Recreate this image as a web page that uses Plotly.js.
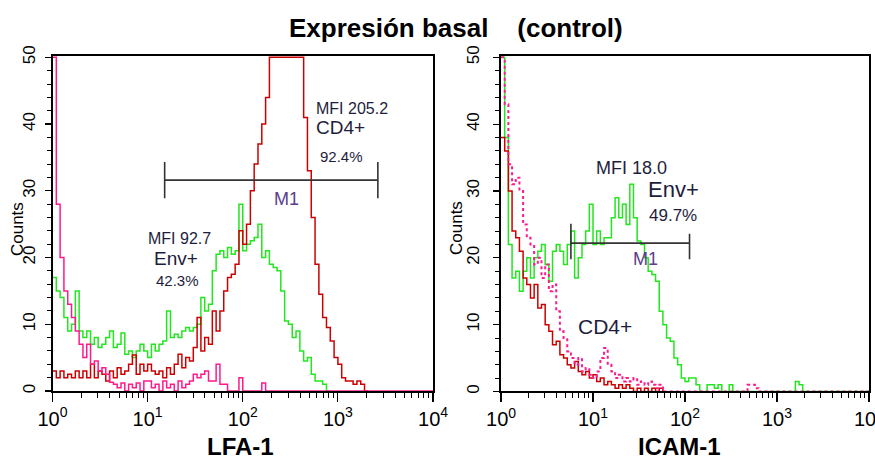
<!DOCTYPE html>
<html>
<head>
<meta charset="utf-8">
<script src="https://cdn.plot.ly/plotly-3.0.1.min.js"></script>
<style>
html, body { margin: 0; padding: 0; background: #ffffff; }
#chart { width: 875px; height: 459px; }
</style>
</head>
<body>
<div id="chart"></div>
<script>
// ---- data: histogram counts per channel (channel width = 0.04 decade, first channel at 10^0) ----
const channelStep = 0.04;

// LFA-1 panel
const lfaEnv = [17, 15, 14, 11, 9, 10, 15, 9, 8, 9,
  7, 8, 6.5, 7, 8, 9, 6.5, 7, 8.7, 5.5,
  6, 5, 6, 7, 6, 5, 7, 6, 7, 7.5,
  12, 8, 8.5, 8, 9, 9.5, 9, 9.5, 10, 14,
  12, 13, 18, 20.5, 21, 20, 21.5, 20.5, 21, 28,
  21, 22, 22.5, 23, 25, 20, 21, 19, 18.5, 18,
  15, 10.5, 10, 8, 9, 6, 4.5, 5, 2.5, 1.5,
  1.5, 1, 0, 0];
const lfaCd4 = [3, 2, 3, 2, 2.5, 2, 3, 2, 3, 2,
  4, 2, 3, 2.5, 1.5, 3, 2, 3.5, 2.5, 3,
  4, 5.4, 2.5, 4, 3, 4, 3, 2.5, 3, 2,
  3.5, 2.5, 4, 5.5, 3.5, 5, 4.5, 6.5, 11, 6,
  8, 7, 12, 9, 12, 15, 17, 17.5, 19, 24,
  22, 25, 30, 34, 37, 40, 44, 50, 50, 50,
  50, 50, 50, 50, 50, 50, 41, 33, 26, 19,
  14.5, 11, 9.5, 7.5, 5, 4, 2, 1.5, 1.5, 1,
  1.5, 1, 0, 0];
const lfaCtrl = [50, 28, 20, 15, 13, 11, 9, 7, 5, 7,
  4, 4.5, 3, 3.5, 2.5, 1.3, 1, 0.5, 1.2, 0,
  1, 0.5, 1.2, 0, 1.5, 1.5, 0.5, 1, 0, 1.5,
  0.5, 1, 0, 1.5, 0.5, 1, 1.5, 2.5, 2, 2.5,
  3, 1.5, 1.5, 4, 1, 1, 0, 0, 0, 2,
  0, 0, 0, 0, 0, 1.2, 0, 0, 0, 0,
  0, 0, 0, 0, 0, 0, 0, 0, 0, 0,
  0, 0, 0, 0, 0, 0, 0, 0, 0, 0,
  0, 0, 0, 0, 0, 0, 0, 0, 0, 0,
  0, 0, 0, 0, 0, 0, 0, 0, 0, 0, 0];

// ICAM-1 panel
const icamEnv = [50, 38, 22, 17, 18, 15, 18, 20, 17, 20,
  21, 22, 19, 16.5, 21, 22, 21, 19, 22, 24,
  17, 20, 22, 24, 28, 22, 24, 22, 23, 23,
  26, 29, 26, 28, 25, 31, 26, 22.5, 22, 20,
  18, 17.5, 16.5, 12, 10, 8, 7.5, 5, 4, 2,
  1.5, 2, 2, 1, 0, 0, 1, 1, 0.5, 1,
  0, 0, 1, 0, 0, 0, 0, 0, 0, 0,
  0, 0, 0, 0, 0, 0, 0, 0, 0, 0,
  1.5, 1, 0, 0, 0, 0, 0, 0, 0, 0,
  0, 0, 0, 0, 0, 0, 0, 0, 0, 0, 0];
const icamCd4 = [38, 36, 30, 24, 23, 21, 17, 16, 14, 16,
  12.5, 13, 10, 9, 7, 7.5, 5.5, 5, 4, 3.5,
  4.5, 3, 2.5, 3, 2, 2.5, 1.5, 2, 1, 1.5,
  1, 0.5, 1, 0.5, 1, 0.5, 0, 0.5, 0, 0.5,
  0, 0.5, 0, 0.5, 0];
const icamCtrl = [50, 43, 34, 31, 32, 30, 25, 23, 22, 19,
  20, 17, 19, 15, 16, 12, 9, 8, 6, 5,
  4, 5, 3, 3.5, 2.5, 2, 3, 5, 6.5, 4,
  3, 2, 2.5, 1.5, 2, 1.5, 2, 1, 1.5, 1,
  1.5, 1, 0.5, 1, 0, 0, 0, 0, 0, 0,
  0, 0, 0, 0, 0, 0, 0, 0, 0, 0,
  0, 0, 0, 0, 0, 0, 0, 1, 1, 0.5,
  0, 0, 0, 0, 0, 0, 0, 0, 0, 0,
  0, 0, 0, 0, 0, 0, 0, 0, 0, 0,
  0, 0, 0, 0, 0, 0, 0, 0, 0, 0, 0];

// M1 marker gates (data units)
const m1Lfa = { lo: 15.1, hi: 2630, y: 31.6, capLo: [28.9, 28.9], capHi: [34.3, 34.3] };
const m1Icam = { lo: 5.75, hi: 112, y: 22.2, capLo: [19.8, 19.8], capHi: [25.1, 23.6] };

// tick labels
const decadeTicks = [1, 10, 100, 1000, 10000];
const decadeLabels = ['10<sup>0</sup>', '10<sup>1</sup>', '10<sup>2</sup>', '10<sup>3</sup>', '10<sup>4</sup>'];
const countTicks = [0, 10, 20, 30, 40, 50];

// text labels: [text, log10 position, count, size, colour]
const lfaLabels = [
  ['MFI 205.2', 3.15, 42.4, 16, '#1e1e3c'],
  ['CD4+', 3.03, 39.5, 19, '#1e1e3c'],
  ['92.4%', 3.04, 35.2, 15, '#1e1e3c'],
  ['MFI 92.7', 1.33, 22.9, 16, '#1e1e3c'],
  ['Env+', 1.30, 19.8, 19, '#1e1e3c'],
  ['42.3%', 1.31, 16.6, 15, '#1e1e3c'],
  ['M1', 2.455, 28.7, 18, '#5a3d8c']
];
const icamLabels = [
  ['MFI 18.0', 1.42, 33.5, 18, '#1e1e3c'],
  ['Env+', 1.88, 30.2, 22, '#1e1e3c'],
  ['49.7%', 1.87, 26.3, 17, '#1e1e3c'],
  ['M1', 1.57, 19.8, 18, '#5a3d8c'],
  ['CD4+', 1.13, 9.7, 21, '#1e1e3c']
];

// ---- build ----
const FONT = 'Liberation Sans, Arial, Helvetica, sans-serif';
const RED = '#cc0000', GREEN = '#22e61e', PINK = '#ff1a8c';

function channels(arr) { return arr.map((_, i) => Math.pow(10, i * channelStep)); }
function hist(y, color, xa, ya, dash, width) {
  return { x: channels(y), y: y, type: 'scatter', mode: 'lines',
    line: { color: color, width: width || 1.5, shape: 'hv', dash: dash || 'solid' },
    xaxis: xa, yaxis: ya, hoverinfo: 'skip', showlegend: false };
}
function marker(m, xa, ya) {
  return { x: [m.lo, m.lo, null, m.lo, m.hi, null, m.hi, m.hi],
    y: [m.capLo[0], m.capHi[0], null, m.y, m.y, null, m.capLo[1], m.capHi[1]],
    type: 'scatter', mode: 'lines', line: { color: '#333333', width: 1.6 },
    xaxis: xa, yaxis: ya, hoverinfo: 'skip', showlegend: false, connectgaps: false };
}

const minorTicks = [];
for (let k = 0; k < 4; k++) for (let m = 2; m <= 9; m++) minorTicks.push(m * Math.pow(10, k));

function axisX(domain, anchor) {
  return { type: 'log', range: [0, 4], domain: domain, anchor: anchor,
    tickmode: 'array', tickvals: decadeTicks, ticktext: decadeLabels,
    ticks: 'outside', ticklen: 9, tickwidth: 1.2, tickcolor: '#000',
    ticklabeloverflow: 'allow',
    minor: { tickmode: 'array', tickvals: minorTicks, ticks: 'outside', ticklen: 5, tickwidth: 1, tickcolor: '#000' },
    showline: true, mirror: true, linecolor: '#000', linewidth: 1.6,
    showgrid: false, zeroline: false, automargin: false,
    tickfont: { family: FONT, size: 20, color: '#000' } };
}
function axisY(domain, anchor, standoff) {
  return { range: [0, 50.25], domain: domain, anchor: anchor,
    tickmode: 'array', tickvals: countTicks,
    ticks: 'outside', ticklen: 6, tickwidth: 1.2, tickcolor: '#000',
    minor: { tickmode: 'linear', tick0: 0, dtick: 2, ticks: 'outside', ticklen: 4, tickwidth: 1, tickcolor: '#000' },
    tickangle: -90, ticklabelstandoff: standoff,
    showline: true, mirror: true, linecolor: '#000', linewidth: 1.6,
    showgrid: false, zeroline: false, automargin: false,
    tickfont: { family: FONT, size: 17, color: '#000' } };
}

function textAnn(l, xr, yr) {
  return { xref: xr, yref: yr, x: l[1], y: l[2], text: l[0], showarrow: false,
    xanchor: 'center', yanchor: 'middle', font: { family: FONT, size: l[3], color: l[4] } };
}

const traces = [
  hist(lfaEnv, GREEN, 'x', 'y'),
  hist(lfaCd4, RED, 'x', 'y'),
  hist(lfaCtrl, PINK, 'x', 'y'),
  marker(m1Lfa, 'x', 'y'),
  hist(icamEnv, GREEN, 'x2', 'y2'),
  hist(icamCd4, RED, 'x2', 'y2'),
  hist(icamCtrl, PINK, 'x2', 'y2', 'dot', 2),
  marker(m1Icam, 'x2', 'y2')
];

const annotations = [
  { xref: 'paper', yref: 'paper', x: 0.5206, y: 0.939, showarrow: false, xanchor: 'center', yanchor: 'middle',
    text: '<b>Expresión basal\u00a0\u00a0\u00a0\u00a0(control)</b>', font: { family: FONT, size: 26, color: '#000' } },
  { xref: 'paper', yref: 'paper', x: 0.2743, y: 0.028, showarrow: false, xanchor: 'center', yanchor: 'middle',
    text: '<b>LFA-1</b>', font: { family: FONT, size: 24, color: '#000' } },
  { xref: 'paper', yref: 'paper', x: 0.777, y: 0.028, showarrow: false, xanchor: 'center', yanchor: 'middle',
    text: '<b>ICAM-1</b>', font: { family: FONT, size: 24, color: '#000' } },
  { xref: 'paper', yref: 'paper', x: 0.0194, y: 0.501, showarrow: false, xanchor: 'center', yanchor: 'middle', textangle: -90,
    text: 'Counts', font: { family: FONT, size: 17, color: '#000' } },
  { xref: 'paper', yref: 'paper', x: 0.521, y: 0.503, showarrow: false, xanchor: 'center', yanchor: 'middle', textangle: -90,
    text: 'Counts', font: { family: FONT, size: 17, color: '#000' } }
].concat(lfaLabels.map(l => textAnn(l, 'x', 'y')), icamLabels.map(l => textAnn(l, 'x2', 'y2')));

const layout = {
  width: 875, height: 459,
  margin: { l: 0, r: 0, t: 0, b: 0 },
  paper_bgcolor: '#ffffff', plot_bgcolor: '#ffffff',
  showlegend: false,
  font: { family: FONT, color: '#000' },
  xaxis: axisX([0.06, 0.4949], 'y'),
  yaxis: axisY([0.1482, 0.8787], 'x', 3),
  xaxis2: axisX([0.5726, 0.9931], 'y2'),
  yaxis2: axisY([0.1471, 0.8787], 'x2', 8),
  annotations: annotations
};

Plotly.newPlot('chart', traces, layout, { staticPlot: true, displayModeBar: false });
</script>
</body>
</html>
